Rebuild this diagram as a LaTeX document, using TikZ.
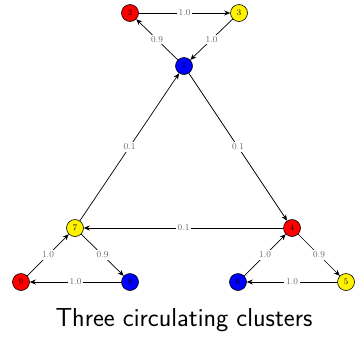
\documentclass[tikz,border=0pt]{standalone}
\usetikzlibrary{arrows.meta}
\begin{document}
\begin{tikzpicture}[x=1pt,y=-1pt,
  vtx/.style={circle,draw=black,line width=0.6pt,minimum size=17pt,inner sep=0pt,font=\fontsize{8.5}{9}\selectfont},
  rednode/.style={vtx,fill=red},
  yelnode/.style={vtx,fill=yellow},
  bluenode/.style={vtx,fill=blue},
  edge/.style={-{Stealth[length=6pt,width=5pt]},line width=0.7pt,black},
  wlab/.style={fill=white,inner sep=1.8pt,text=black!60,font=\fontsize{9}{10}\selectfont}]
\useasboundingbox (0,0) rectangle (361,338);
\node[bluenode] (n1) at (184,66) {1};
\node[rednode] (n2) at (130,13) {2};
\node[yelnode] (n3) at (239,13) {3};
\node[rednode] (n4) at (292,228) {4};
\node[yelnode] (n5) at (346,282) {5};
\node[bluenode] (n6) at (238,282) {6};
\node[yelnode] (n7) at (75,228) {7};
\node[bluenode] (n8) at (130,282) {8};
\node[rednode] (n9) at (21,282) {9};
\draw[edge] (n2) -- node[wlab]{1.0} (n3);
\draw[edge] (n3) -- node[wlab]{1.0} (n1);
\draw[edge] (n1) -- node[wlab]{0.9} (n2);
\draw[edge] (n7) -- node[wlab]{0.1} (n1);
\draw[edge] (n1) -- node[wlab]{0.1} (n4);
\draw[edge] (n4) -- node[wlab]{0.1} (n7);
\draw[edge] (n7) -- node[wlab]{0.9} (n8);
\draw[edge] (n8) -- node[wlab]{1.0} (n9);
\draw[edge] (n9) -- node[wlab]{1.0} (n7);
\draw[edge] (n4) -- node[wlab]{0.9} (n5);
\draw[edge] (n5) -- node[wlab]{1.0} (n6);
\draw[edge] (n6) -- node[wlab]{1.0} (n4);
\node[font=\fontsize{26}{30}\sffamily] (title) at (184,320) {Three circulating clusters};
\end{tikzpicture}
\end{document}
